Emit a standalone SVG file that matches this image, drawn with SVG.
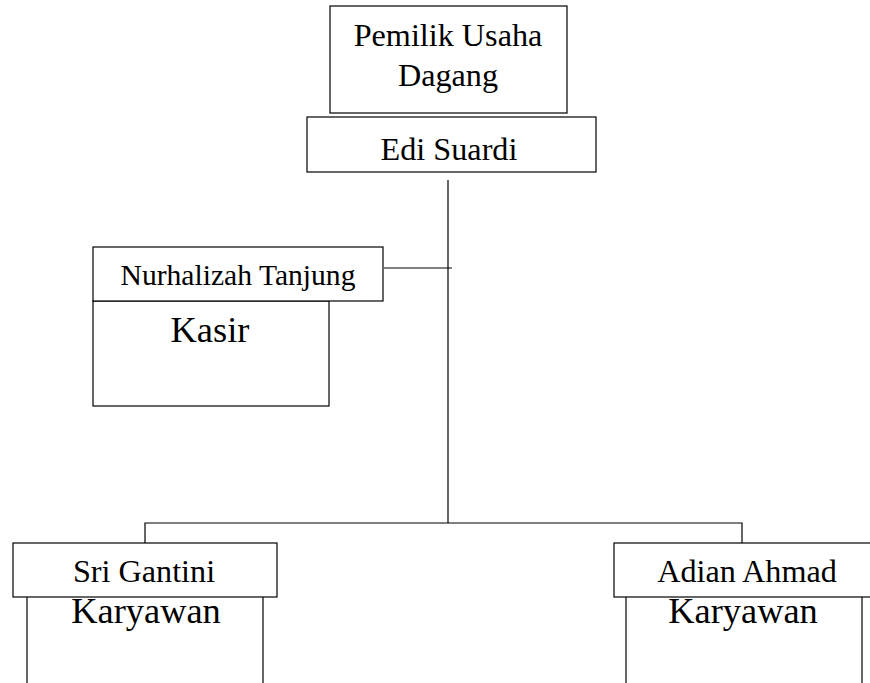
<svg xmlns="http://www.w3.org/2000/svg" width="870" height="683" viewBox="0 0 870 683">
<style>
.box{fill:#fff;stroke:#000;stroke-width:1.2}
.side{fill:none;stroke:#000;stroke-width:1.2}
.ln{fill:none;stroke:#000;stroke-width:1.2}
text{font-family:"Liberation Serif","Times New Roman",serif;fill:#000;text-anchor:middle}
.t{font-size:32.2px}
.big{font-size:36.4px}
</style>
<rect width="870" height="683" fill="#fff"/>
<g id="connectors">
<line class="ln" x1="448" y1="180" x2="448" y2="523"/>
<line class="ln" x1="384" y1="268" x2="452" y2="268"/>
<polyline class="ln" points="145,543 145,523 742,523 742,543"/>
</g>
<g id="pemilik">
<rect class="box" x="330" y="6" width="237" height="107"/>
<text class="t" x="448" y="46">Pemilik Usaha</text>
<text class="t" x="448" y="86">Dagang</text>
</g>
<g id="edi">
<rect class="box" x="307" y="117" width="289" height="55"/>
<text class="t" x="449" y="160">Edi Suardi</text>
</g>
<g id="kasir">
<rect class="box" x="93" y="301" width="236" height="105"/>
<text class="big" x="210" y="342">Kasir</text>
</g>
<g id="nurhalizah">
<rect class="box" x="93" y="247" width="290" height="54"/>
<text class="t" x="238" y="285" style="font-size:29.6px">Nurhalizah Tanjung</text>
</g>
<g id="karyawan1">
<polyline class="side" points="27,597 27,683"/>
<polyline class="side" points="263,597 263,683"/>
<text class="big" x="146" y="623">Karyawan</text>
</g>
<g id="sri">
<rect class="box" x="13" y="543" width="264" height="54"/>
<text class="t" x="144" y="582">Sri Gantini</text>
</g>
<g id="karyawan2">
<polyline class="side" points="626,597 626,683"/>
<polyline class="side" points="862,597 862,683"/>
<text class="big" x="743" y="623">Karyawan</text>
</g>
<g id="adian">
<rect class="box" x="614" y="543" width="270" height="54"/>
<text class="t" x="747" y="582">Adian Ahmad</text>
</g>
</svg>
